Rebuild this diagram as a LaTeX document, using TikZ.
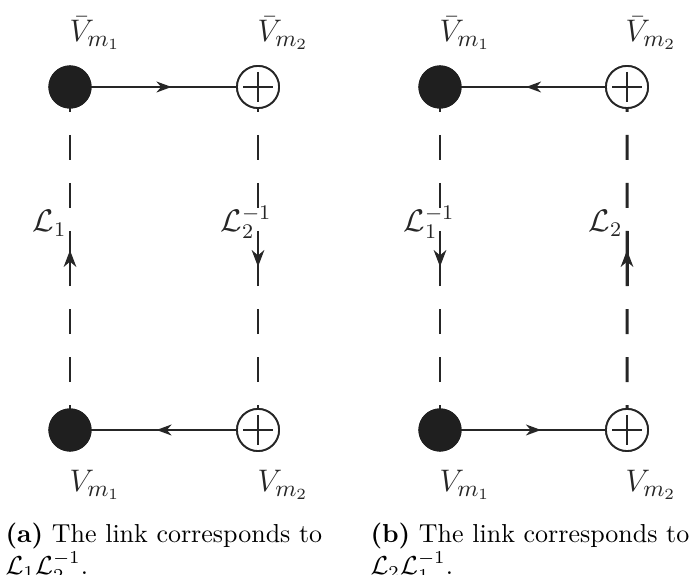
\documentclass[tikz,border=0pt]{standalone}
\usetikzlibrary{arrows.meta,decorations.markings,calc}
\begin{document}
\begin{tikzpicture}[x=0.385pt,y=-0.385pt,
  vert/.style={circle,inner sep=0pt,minimum size=16.2pt},
  filled/.style={vert,fill=black!88,draw=black!88},
  crossed/.style={vert,fill=white,draw=black!85,line width=0.7pt},
  link/.style={line width=0.8pt,draw=black!85},
  ghost/.style={line width=1.15pt,draw=black!85,dash pattern=on 9.6pt off 8.85pt},
  ghostsolid/.style={line width=1.15pt,draw=black!85},
  pluslines/.style={line width=0.7pt,draw=black!85},
  midarrow/.style={postaction={decorate},decoration={markings,
    mark=at position 0.5 with {\arrow[xshift=2.9pt]{Stealth[length=5.8pt,width=4.2pt,inset=1.8pt]}}}},
  midarrowv/.style={postaction={decorate},decoration={markings,
    mark=at position 0.5 with {\arrow[xshift=3.2pt]{Stealth[length=6.4pt,width=4.8pt,inset=2pt]}}}},
  vlab/.style={anchor=base west,inner sep=0pt,font=\fontsize{13}{15}\selectfont,text=black!85},
  llab/.style={anchor=base west,inner sep=0pt,font=\large,text=black!85},
  captext/.style={anchor=north west,inner sep=0pt,align=left,font=\fontsize{10}{10.8}\selectfont}
]
\useasboundingbox (0,0) rectangle (689,575);

% ---------------- panel (a) ----------------
\node[filled]  (a1) at (70,87)  {};
\node[crossed] (a2) at (258,87) {};
\node[filled]  (a3) at (70,430) {};
\node[crossed] (a4) at (258,430) {};

% ---------------- panel (b) ----------------
\node[filled]  (b1) at (440,87)  {};
\node[crossed] (b2) at (627,87) {};
\node[filled]  (b3) at (440,430) {};
\node[crossed] (b4) at (627,430) {};

% dashed vertical links, drawn from both ends towards the middle
\foreach \top/\bot in {a1/a3,a2/a4,b1/b3,b2/b4}{
  \draw[ghost] (\top.center) -- ($(\top)!0.5!(\bot)$);
  \draw[ghost] (\bot.center) -- ($(\top)!0.5!(\bot)$);
}

% solid middle pieces carrying the orientation
\draw[ghostsolid,midarrowv] ($(a3)!0.42!(a1)$) -- ($(a3)!0.58!(a1)$); % L1 up
\draw[ghostsolid,midarrowv] ($(a2)!0.42!(a4)$) -- ($(a2)!0.58!(a4)$); % L2^-1 down
\draw[ghostsolid,midarrowv] ($(b1)!0.42!(b3)$) -- ($(b1)!0.58!(b3)$); % L1^-1 down
\draw[ghostsolid,midarrowv] ($(b4)!0.42!(b2)$) -- ($(b4)!0.58!(b2)$); % L2 up

% horizontal links
\draw[link,midarrow] (a1.center) -- (a2.center);
\draw[link,midarrow] (a4.center) -- (a3.center);
\draw[link,midarrow] (b2.center) -- (b1.center);
\draw[link,midarrow] (b3.center) -- (b4.center);

% redraw vertices on top
\foreach \n in {a1,a3,b1,b3}{ \node[filled] at (\n) {}; }
\foreach \n in {a2,a4,b2,b4}{
  \node[crossed] at (\n) {};
  \draw[pluslines] ($(\n)+(-15,0)$) -- ($(\n)+(15,0)$)
                   ($(\n)+(0,-15)$) -- ($(\n)+(0,15)$);
}

% vertex labels
\node[vlab] (ta1) at (69,42)  {$\bar V_{m_1}$};
\node[vlab] (ta2) at (257,42) {$\bar V_{m_2}$};
\node[vlab] (ba1) at (69,492) {$V_{m_1}$};
\node[vlab] (ba2) at (257,492) {$V_{m_2}$};
\node[vlab] (tb1) at (439,42) {$\bar V_{m_1}$};
\node[vlab] (tb2) at (625,42) {$\bar V_{m_2}$};
\node[vlab] (bb1) at (439,492) {$V_{m_1}$};
\node[vlab] (bb2) at (625,492) {$V_{m_2}$};

% link labels
\node[llab] (la) at (32,232)  {$\mathcal{L}_1$};
\node[llab] (lb) at (220,232) {$\mathcal{L}_2^{-1}$};
\node[llab] (lc) at (403,232) {$\mathcal{L}_1^{-1}$};
\node[llab] (ld) at (588,232) {$\mathcal{L}_2$};

% captions (top edge at the cap height of the first line)
\node[captext] (capa) at (5,523)   {\textbf{(a)} The link corresponds to\\ $\mathcal{L}_1\mathcal{L}_2^{-1}$.};
\node[captext] (capb) at (370,523) {\textbf{(b)} The link corresponds to\\ $\mathcal{L}_2\mathcal{L}_1^{-1}$.};
\end{tikzpicture}
\end{document}
